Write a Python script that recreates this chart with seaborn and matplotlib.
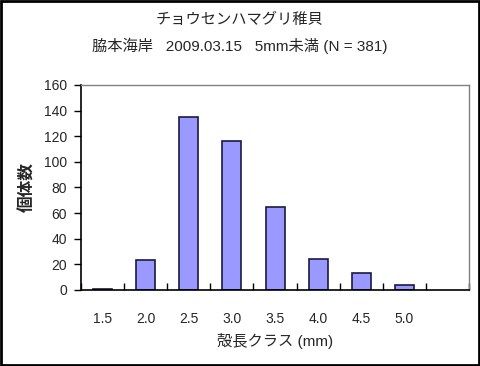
import matplotlib
matplotlib.use('Agg')
from matplotlib import pyplot as plt
from matplotlib.patches import Rectangle
import numpy as np
import pandas as pd
import seaborn as sns

# shell length classes (last slot is empty in the original)
classes = ["1.5", "2.0", "2.5", "3.0", "3.5", "4.0", "4.5", "5.0", ""]
counts = [1, 23, 135, 116, 65, 24, 13, 4, np.nan]
yticks = [0, 20, 40, 60, 80, 100, 120, 140, 160]

title1 = "チョウセンハマグリ稚貝"
title2 = "脇本海岸   2009.03.15   5mm未満 (N = 381)"
xlabel = "殻長クラス (mm)"
ylabel = "個体数"

sns.set_style("white")
plt.rcParams['font.family'] = ['Liberation Sans', 'Noto Sans CJK JP', 'DejaVu Sans']

df = pd.DataFrame({"class": classes, "count": counts})

fig = plt.figure(figsize=(4.8, 3.66), dpi=100)
ax = fig.add_axes([0.169, 0.208, 0.808, 0.56])

sns.barplot(data=df, x="class", y="count", order=classes, color="#9999FF",
            saturation=1, width=0.44, edgecolor="#1a1a40", linewidth=1.2, ax=ax)

ax.set_xlim(-0.5, len(classes) - 0.5)
ax.set_ylim(0, 160)
ax.set_yticks(yticks)
ax.set_yticklabels([str(v) for v in yticks], fontsize=10)
ax.tick_params(axis='y', direction='out', length=5, width=1, pad=5, left=True, color='black')

ax.set_xticks(range(len(classes)))
ax.set_xticklabels(classes, fontsize=10)
ax.tick_params(axis='x', which='major', length=0, pad=16)
ax.set_xticks(np.arange(-0.5, len(classes)), minor=True)
ax.tick_params(axis='x', which='minor', direction='in', length=5, width=1, color='black', bottom=True)

ax.set_xlabel(xlabel, fontsize=11, labelpad=5)
ax.set_ylabel(ylabel, fontsize=12, fontweight='bold', labelpad=6)

for side in ['left', 'bottom']:
    ax.spines[side].set_color('black')
    ax.spines[side].set_linewidth(1.2)
for side in ['top', 'right']:
    ax.spines[side].set_visible(True)
    ax.spines[side].set_color('#808080')
    ax.spines[side].set_linewidth(1)

fig.text(0.5, 0.945, title1, ha='center', va='center', fontsize=11)
fig.text(0.5, 0.876, title2, ha='center', va='center', fontsize=11)

fig.patches.append(Rectangle((0.002, 0.003), 0.995, 0.994, transform=fig.transFigure,
                             fill=False, edgecolor='black', linewidth=2))

fig.savefig("out.png", dpi=100)
